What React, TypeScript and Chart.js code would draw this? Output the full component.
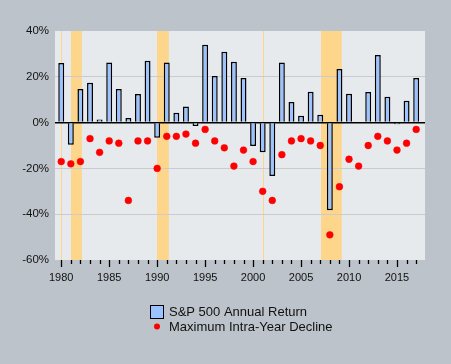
import React, { useEffect, useRef } from 'react';
import { Chart, registerables } from 'chart.js';

Chart.register(...registerables);

const years = [
  1980, 1981, 1982, 1983, 1984, 1985, 1986, 1987, 1988, 1989,
  1990, 1991, 1992, 1993, 1994, 1995, 1996, 1997, 1998, 1999,
  2000, 2001, 2002, 2003, 2004, 2005, 2006, 2007, 2008, 2009,
  2010, 2011, 2012, 2013, 2014, 2015, 2016, 2017,
];

const annualReturns = [
  26.0, -9.7, 14.7, 17.4, 1.4, 26.2, 14.7, 2.0, 12.5, 27.0,
  -6.6, 26.2, 4.3, 7.0, -1.5, 34.0, 20.3, 30.9, 26.6, 19.5,
  -10.2, -12.9, -23.3, 26.2, 9.0, 3.0, 13.5, 3.4, -38.3, 23.4,
  12.6, 0.0, 13.4, 29.5, 11.3, -0.7, 9.5, 19.5,
];

const maxDeclines = [
  -17, -18, -17, -7, -13, -8, -9, -34, -8, -8,
  -20, -6, -6, -5, -9, -3, -8, -11, -19, -12,
  -17, -30, -34, -14, -8, -7, -8, -10, -49, -28,
  -16, -19, -10, -6, -8, -12, -9, -3,
];

const recessionStarts = [1980.0, 1981.0, 1990.0, 2001.0, 2007.08];
const recessionEnds = [1980.0, 1982.13, 1991.23, 2001.0, 2009.24];

const yTickValues = [40, 20, 0, -20, -40, -60];

const returnLabel = 'S&P 500 Annual Return';
const declineLabel = 'Maximum Intra-Year Decline';

const OUTER_BG = '#BDC3CA';
const PLOT_BG = '#E7EAED';
const BAND = '#FDD68B';
const BAR_FILL = '#9CC3FF';
const TEXT = '#111111';
const FONT = 'Arial, "Liberation Sans", sans-serif';

const backgroundPlugin = {
  id: 'backgroundBands',
  beforeDraw(chart: any) {
    const { ctx, chartArea: a, scales } = chart;
    const x = scales.x;
    ctx.save();
    ctx.fillStyle = OUTER_BG;
    ctx.fillRect(0, 0, chart.width, chart.height);
    ctx.fillStyle = PLOT_BG;
    ctx.fillRect(a.left, a.top, a.right - a.left, a.bottom - a.top);
    ctx.fillStyle = BAND;
    for (let i = 0; i < recessionStarts.length; i++) {
      const x0 = x.getPixelForValue(recessionStarts[i]);
      const x1 = x.getPixelForValue(recessionEnds[i]);
      const w = Math.max(1, x1 - x0);
      ctx.fillRect(Math.round(x0), a.top, w, a.bottom - a.top);
    }
    ctx.restore();
  },
};

const ticksLegendPlugin = {
  id: 'ticksLegend',
  afterDraw(chart: any) {
    const { ctx, chartArea: a, scales } = chart;
    const x = scales.x;
    ctx.save();
    ctx.strokeStyle = '#000';
    ctx.lineWidth = 1.3;
    for (const yr of years) {
      const px = Math.round(x.getPixelForValue(yr)) + 0.5;
      const len = yr % 5 === 0 ? 7 : 4;
      ctx.beginPath();
      ctx.moveTo(px, a.bottom);
      ctx.lineTo(px, a.bottom + len);
      ctx.stroke();
    }

    // legend
    const boxX = 150.5;
    const boxY = 305.5;
    ctx.fillStyle = BAR_FILL;
    ctx.fillRect(boxX, boxY, 13, 13);
    ctx.lineWidth = 1;
    ctx.strokeStyle = '#000';
    ctx.strokeRect(boxX, boxY, 13, 13);

    ctx.fillStyle = '#FF0000';
    ctx.beginPath();
    ctx.arc(157, 326.5, 3, 0, Math.PI * 2);
    ctx.fill();

    ctx.fillStyle = TEXT;
    ctx.font = `13px ${FONT}`;
    ctx.textAlign = 'left';
    ctx.textBaseline = 'alphabetic';
    ctx.fillText(returnLabel, 169, 315.5);
    ctx.fillText(declineLabel, 169, 331);
    ctx.restore();
  },
};

export default function App() {
  const canvasRef = useRef<HTMLCanvasElement | null>(null);

  useEffect(() => {
    document.body.style.margin = '0';
    const canvas = canvasRef.current;
    if (!canvas) return;

    const barData = years.map((yr, i) => ({ x: yr, y: annualReturns[i] }));
    const dotData = years.map((yr, i) => ({ x: yr, y: maxDeclines[i] }));

    const chart = new Chart(canvas, {
      type: 'bar',
      data: {
        datasets: [
          {
            type: 'scatter',
            label: declineLabel,
            data: dotData,
            backgroundColor: '#FF0000',
            borderColor: '#FF0000',
            pointRadius: 3.4,
            pointBorderWidth: 0.5,
            order: 0,
          } as any,
          {
            type: 'bar',
            label: returnLabel,
            data: barData,
            backgroundColor: BAR_FILL,
            borderColor: '#000000',
            borderWidth: 1.5,
            barPercentage: 0.62,
            categoryPercentage: 1.0,
            order: 1,
          } as any,
        ],
      },
      options: {
        animation: false,
        responsive: false,
        maintainAspectRatio: false,
        events: [],
        layout: { padding: { left: 0, right: 26, top: 31, bottom: 74 } },
        plugins: {
          legend: { display: false },
          tooltip: { enabled: false },
        },
        scales: {
          x: {
            type: 'linear',
            min: 1979.35,
            max: 2017.92,
            offset: false,
            afterFit(scale: any) {
              scale.height = 30;
            },
            grid: { display: false, drawTicks: false, offset: false },
            border: { display: false },
            ticks: {
              stepSize: 1,
              autoSkip: false,
              includeBounds: false,
              maxRotation: 0,
              padding: 11,
              color: TEXT,
              font: { family: FONT, size: 11 },
              callback: (v: any) => (Number(v) % 5 === 0 ? String(v) : ''),
            },
          },
          y: {
            min: -60,
            max: 40,
            afterFit(scale: any) {
              scale.width = 55;
            },
            afterBuildTicks(scale: any) {
              scale.ticks = yTickValues.map((v) => ({ value: v }));
            },
            border: { display: false },
            grid: {
              drawTicks: false,
              color: (c: any) => {
                const v = c.tick ? c.tick.value : null;
                if (v === 0) return '#000000';
                if (v === 40 || v === -60) return 'rgba(0,0,0,0)';
                return '#C9CBCE';
              },
              lineWidth: (c: any) => (c.tick && c.tick.value === 0 ? 1.5 : 1),
            },
            ticks: {
              padding: 6,
              color: TEXT,
              font: { family: FONT, size: 11.5 },
              callback: (v: any) => `${v}%`,
            },
          },
        },
      } as any,
      plugins: [backgroundPlugin, ticksLegendPlugin],
    });

    return () => chart.destroy();
  }, []);

  return (
    <div style={{ position: 'fixed', left: 0, top: 0, width: 451, height: 364, background: OUTER_BG }}>
      <canvas ref={canvasRef} width={451} height={364} style={{ display: 'block', width: 451, height: 364 }} />
    </div>
  );
}
